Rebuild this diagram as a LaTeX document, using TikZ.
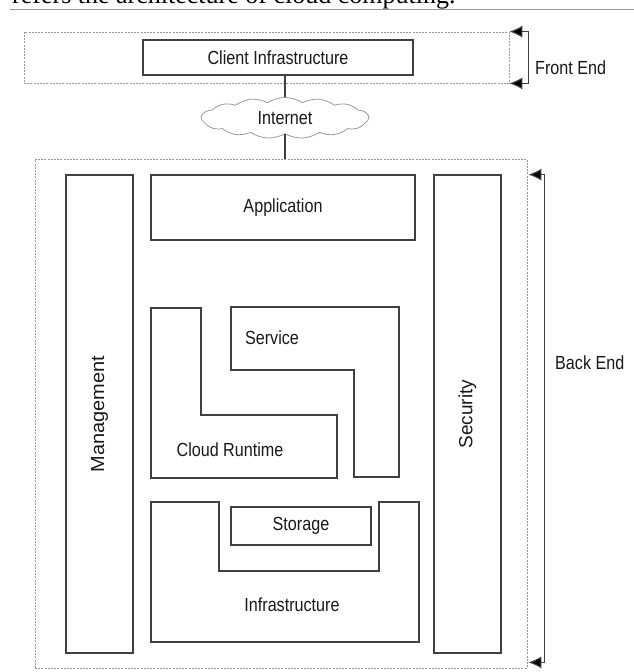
\documentclass[tikz,border=0pt]{standalone}
\usepackage{fontspec}
\setmainfont{Liberation Sans}[FakeStretch=0.85]
\newfontfamily\captionfont{Liberation Serif}
\usetikzlibrary{arrows,arrows.meta,shapes,positioning,calc}

\begin{document}
\begin{tikzpicture}[x=1pt,y=-1pt,
    every node/.style={font=\fontsize{19}{22}\selectfont, text=black!90},
    blk/.style={draw=black!75, line width=1.1pt, inner sep=0pt},
    zone/.style={draw=black!40, line width=0.8pt, dash pattern=on 2pt off 1.2pt, inner sep=0pt},
    wall/.style={draw=black!75, line width=1.1pt, line join=miter},
    span/.style={draw=black!75, line width=1.1pt, {Latex[length=13pt,width=12pt,fill=black]}-{Latex[length=13pt,width=12pt,fill=black]}}]
  \useasboundingbox (0,0) rectangle (634,672);

  % cut-off caption of the page above the figure
  \begin{scope}
    \clip (0,0) rectangle (634,672);
    \node[anchor=base west, inner sep=0pt, font=\captionfont\fontsize{26}{28}\selectfont, text=black] (caption) at (12,3.5) {refers the architecture of cloud computing.};
  \end{scope}
  \draw[black!40, line width=0.8pt] (10,9.5) -- (634,9.5);

  % front end
  \node[zone, minimum width=485, minimum height=51] (front) at (266.5,57.5) {};
  \node[blk, minimum width=270, minimum height=35] (client) at (278,57.5) {Client Infrastructure};
  \node[cloud, draw=black!40, line width=0.8pt, cloud puffs=15, cloud puff arc=65, aspect=4.2, minimum width=167, minimum height=41, inner sep=0pt] (inet) at (285,118) {Internet};

  % back end
  \node[zone, minimum width=492, minimum height=509] (back) at (281,413.5) {};
  \node[blk, rotate=90, minimum width=478, minimum height=67] (mgmt) at (99.5,414) {\addfontfeature{FakeStretch=1.05}Management};
  \node[blk, rotate=90, minimum width=478, minimum height=67] (sec) at (467.5,414) {\addfontfeature{FakeStretch=1.0}Security};
  \node[blk, minimum width=264, minimum height=65] (app) at (283,207.5) {Application};
  \draw[wall] (151,308) -- (201,308) -- (201,415) -- (337,415) -- (337,478) -- (151,478) -- cycle;
  \draw[wall] (231,307) -- (399,307) -- (399,477) -- (354,477) -- (354,370) -- (231,370) -- cycle;
  \draw[wall] (151,502) -- (219,502) -- (219,571) -- (379,571) -- (379,502) -- (419,502) -- (419,642) -- (151,642) -- cycle;
  \node (svc) at (272,338) {Service};
  \node (runtime) at (230,450) {Cloud Runtime};
  \node[blk, minimum width=140, minimum height=38] (storage) at (301,526) {Storage};
  \node (infra) at (292,605) {Infrastructure};

  % links
  \draw[wall] (inet.north) -- (inet.north |- client.south);
  \draw[wall] (inet.south) -- (inet.south |- back.north);

  % brackets
  \coordinate (betop) at ($(back.north east)+(1,16)$);
  \coordinate (bebot) at ($(back.south east)+(1,-6)$);
  \draw[span] (front.north east) -- ++(19,0) |- (front.south east);
  \draw[span] (betop) -- ++(16,0) |- (bebot);
  \node[anchor=west, inner sep=0pt] (felabel) at (535,68) {Front End};
  \node[anchor=west, inner sep=0pt] (belabel) at (555,363) {Back End};
\end{tikzpicture}
\end{document}
